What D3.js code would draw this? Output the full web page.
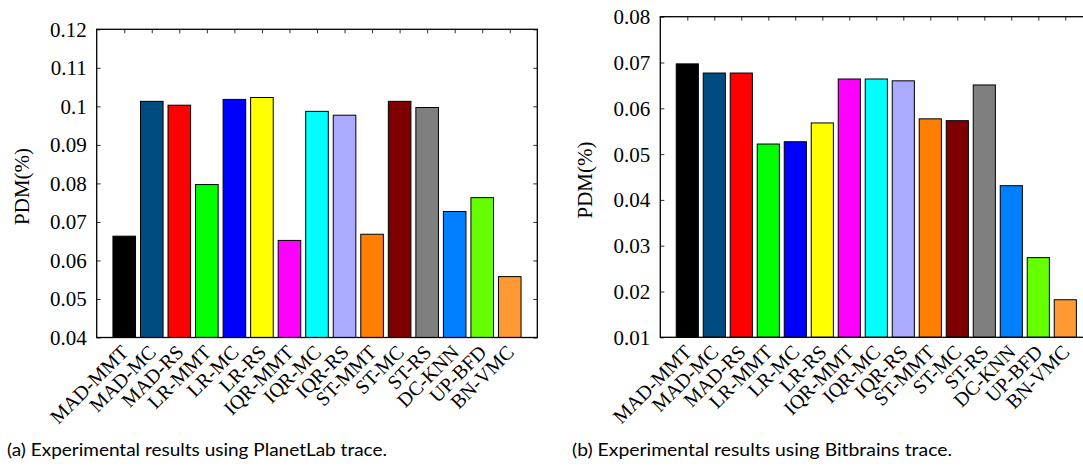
<!DOCTYPE html>
<html>
<head>
<meta charset="utf-8">
<script src="https://cdn.jsdelivr.net/npm/d3@7/dist/d3.min.js"></script>
<style>
  html, body { margin: 0; padding: 0; background: #fff; }
  svg { display: block; }
  .tick text { font-family: "Liberation Serif", "Times New Roman", serif; fill: #000; }
</style>
</head>
<body>
<svg id="chart" width="1083" height="468"></svg>
<script>
// Migration policies compared in both experiments
const policies = ["MAD-MMT", "MAD-MC", "MAD-RS", "LR-MMT", "LR-MC", "LR-RS", "IQR-MMT",
  "IQR-MC", "IQR-RS", "ST-MMT", "ST-MC", "ST-RS", "DC-KNN", "UP-BFD", "BN-VMC"];

// PDM (%) per policy
const pdmPlanetLab = [0.0663, 0.1013, 0.1003, 0.0797, 0.1018, 0.1023, 0.0652,
  0.0987, 0.0977, 0.0668, 0.1013, 0.0997, 0.0727, 0.0763, 0.0558];
const pdmBitbrains = [0.0697, 0.0677, 0.0677, 0.0522, 0.0527, 0.0568, 0.0664,
  0.0664, 0.0660, 0.0577, 0.0573, 0.0651, 0.0431, 0.0274, 0.0182];

// Y-axis ticks and their labels
const yTicksPlanetLab = [0.04, 0.05, 0.06, 0.07, 0.08, 0.09, 0.10, 0.11, 0.12];
const yLabelsPlanetLab = ["0.04", "0.05", "0.06", "0.07", "0.08", "0.09", "0.1", "0.11", "0.12"];
const yTicksBitbrains = [0.01, 0.02, 0.03, 0.04, 0.05, 0.06, 0.07, 0.08];
const yLabelsBitbrains = ["0.01", "0.02", "0.03", "0.04", "0.05", "0.06", "0.07", "0.08"];

// One fill colour per policy
const barColors = ["#000000", "#004c80", "#ff0000", "#00ff00", "#0000ff", "#ffff00", "#ff00ff",
  "#00ffff", "#aaaaff", "#ff7f00", "#7f0000", "#7f7f7f", "#0080ff", "#66ff00", "#ff9933"];

const captions = ["(a) Experimental results using PlanetLab trace.",
  "(b) Experimental results using Bitbrains trace."];

const svg = d3.select("#chart");

function drawPanel(opts) {
  const { left, right, top, bottom, values, ticks, labels, caption, capX } = opts;
  const g = svg.append("g");

  const x = d3.scalePoint().domain(policies).range([left, right]).padding(1);
  const y = d3.scaleLinear().domain([ticks[0], ticks[ticks.length - 1]]).range([bottom, top]);
  const barW = x.step() * 0.82;
  const labelOf = new Map(ticks.map((t, i) => [t, labels[i]]));

  // inward ticks on all four sides
  g.append("g").attr("transform", `translate(${left},0)`)
    .call(d3.axisLeft(y).tickValues(ticks).tickSizeInner(-4).tickSizeOuter(0).tickPadding(10)
      .tickFormat(d => labelOf.get(d)))
    .call(a => a.select(".domain").remove())
    .call(a => a.selectAll("line").attr("stroke", "#333"))
    .call(a => a.selectAll("text").attr("font-size", 21).attr("dy", "0.33em"));

  g.append("g").attr("transform", `translate(${right},0)`)
    .call(d3.axisRight(y).tickValues(ticks).tickSizeInner(-4).tickSizeOuter(0).tickFormat(""))
    .call(a => a.select(".domain").remove())
    .call(a => a.selectAll("line").attr("stroke", "#333"));

  g.append("g").attr("transform", `translate(0,${top})`)
    .call(d3.axisTop(x).tickSizeInner(-4).tickSizeOuter(0).tickFormat(""))
    .call(a => a.select(".domain").remove())
    .call(a => a.selectAll("line").attr("stroke", "#333"));

  // bars
  g.append("g").selectAll("rect")
    .data(values)
    .join("rect")
    .attr("x", (d, i) => x(policies[i]) - barW / 2)
    .attr("y", d => y(d))
    .attr("width", barW)
    .attr("height", d => bottom - y(d))
    .attr("fill", (d, i) => barColors[i])
    .attr("stroke", "#000")
    .attr("stroke-width", 1);

  // frame
  g.append("rect")
    .attr("x", left).attr("y", top)
    .attr("width", right - left).attr("height", bottom - top)
    .attr("fill", "none").attr("stroke", "#000").attr("stroke-width", 1.3);

  // rotated category labels
  const xAxis = g.append("g").attr("transform", `translate(0,${bottom})`)
    .call(d3.axisBottom(x).tickSize(0).tickPadding(0));
  xAxis.select(".domain").remove();
  xAxis.selectAll(".tick text")
    .attr("font-size", 20)
    .attr("text-anchor", "end")
    .attr("dy", 0)
    .attr("y", 0)
    .attr("transform", "translate(5,16) rotate(-45)");

  // y-axis title
  g.append("text")
    .attr("transform", `translate(${left - 68},${(top + bottom) / 2 + 3}) rotate(-90)`)
    .attr("text-anchor", "middle")
    .attr("font-family", "Liberation Serif, Times New Roman, serif")
    .attr("font-size", 21)
    .text("PDM(%)");

  // caption
  g.append("text")
    .attr("x", capX).attr("y", 456)
    .attr("font-family", "Lato, Open Sans, sans-serif")
    .attr("font-size", 18)
    .attr("textLength", 380)
    .attr("lengthAdjust", "spacingAndGlyphs")
    .text(caption);
}

drawPanel({ left: 96.7, right: 537.3, top: 29.3, bottom: 337.5,
  values: pdmPlanetLab, ticks: yTicksPlanetLab, labels: yLabelsPlanetLab,
  caption: captions[0], capX: 7 });

drawPanel({ left: 660.3, right: 1092.3, top: 16.7, bottom: 337.3,
  values: pdmBitbrains, ticks: yTicksBitbrains, labels: yLabelsBitbrains,
  caption: captions[1], capX: 572 });
</script>
</body>
</html>
